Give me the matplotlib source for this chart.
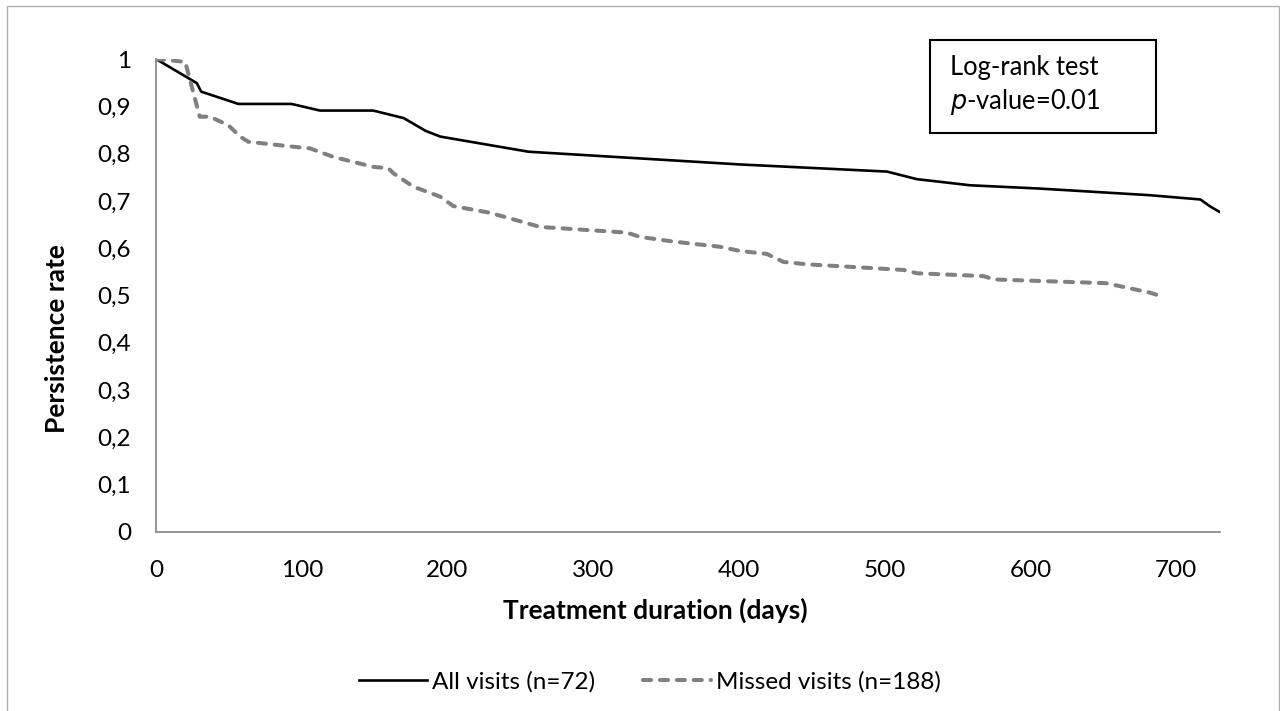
import matplotlib
matplotlib.use("Agg")
import matplotlib.pyplot as plt
from matplotlib.patches import Rectangle

plt.rcParams['font.family'] = ['Lato', 'DejaVu Sans']

# Data
all_days = [0, 28, 31, 56.5, 93, 112.5, 149, 170, 185, 195, 255.5, 401, 501.5, 522,
            558.7, 606.7, 682, 716.5, 723.4, 730.7]
all_rate = [1.0, 0.949, 0.931, 0.905, 0.905, 0.891, 0.891, 0.875, 0.848, 0.836, 0.804,
            0.777, 0.762, 0.746, 0.733, 0.726, 0.712, 0.703, 0.688, 0.675]

missed_days = [0, 20, 30, 37, 49.6, 57.7, 63.3, 98.8, 105.7, 121.7, 149, 159.4, 163,
               176.6, 195, 204, 229, 263.5, 323, 332, 355, 387, 401, 419, 430.5, 446.5,
               513, 522, 567.8, 574.7, 652, 682, 690]
missed_rate = [1.0, 0.994, 0.878, 0.878, 0.86, 0.836, 0.825, 0.813, 0.811, 0.793, 0.772,
               0.769, 0.758, 0.730, 0.709, 0.689, 0.675, 0.645, 0.633, 0.624, 0.614,
               0.603, 0.594, 0.588, 0.571, 0.566, 0.554, 0.547, 0.541, 0.534, 0.526,
               0.506, 0.498]

series_labels = ["All visits (n=72)", "Missed visits (n=188)"]
x_ticks = [0, 100, 200, 300, 400, 500, 600, 700]
y_ticks = [0, 0.1, 0.2, 0.3, 0.4, 0.5, 0.6, 0.7, 0.8, 0.9, 1.0]
y_tick_labels = ["0", "0,1", "0,2", "0,3", "0,4", "0,5", "0,6", "0,7", "0,8", "0,9", "1"]

W, H = 1280, 711
fig = plt.figure(figsize=(W / 100, H / 100), dpi=100)
fig.patch.set_facecolor('white')

# outer chart border
fig.patches.append(Rectangle((7 / W, -0.02), (1279 - 7) / W, 1 - 6 / H + 0.02,
                             transform=fig.transFigure, fill=False,
                             edgecolor='#b0b0b0', linewidth=1.0))

ax = fig.add_axes([156 / W, 1 - 532 / H, (1220 - 156) / W, (532 - 59) / H])

l1, = ax.plot(all_days, all_rate, color='black', linewidth=1.9,
              solid_joinstyle='round', label=series_labels[0])
l2, = ax.plot(missed_days, missed_rate, color='#808080', linewidth=2.9,
              linestyle=(0, (2.0, 2.2)), dash_capstyle='round',
              label=series_labels[1])

ax.set_xlim(0, 730)
ax.set_ylim(0, 1)
ax.set_xticks(x_ticks)
ax.set_yticks(y_ticks)
ax.set_yticklabels(y_tick_labels)
ax.tick_params(axis='both', length=0, labelsize=17.5, colors='black')
ax.tick_params(axis='x', pad=20)
ax.tick_params(axis='y', pad=18)

for s in ['top', 'right']:
    ax.spines[s].set_visible(False)
for s in ['left', 'bottom']:
    ax.spines[s].set_color('#8c8c8c')
    ax.spines[s].set_linewidth(1.3)

fig.text(655 / W, 1 - 610 / H, "Treatment duration (days)", fontsize=19,
         fontweight='bold', ha='center', va='center')
fig.text(57 / W, 1 - 339 / H, "Persistence rate", fontsize=19, fontweight='bold',
         ha='center', va='center', rotation=90)

# Log-rank box
fig.patches.append(Rectangle((930 / W, 1 - 133 / H), (1156 - 930) / W, (133 - 40) / H,
                             transform=fig.transFigure, fill=False,
                             edgecolor='black', linewidth=1.5))
fig.text(950 / W, 1 - 68 / H, "Log-rank test", fontsize=18.4, va='center', ha='left')
fig.text(950 / W, 1 - 102 / H, r"$\it{p}$-value=0.01", fontsize=18.4, va='center', ha='left')

fig.legend(handles=[l1, l2], loc='center', bbox_to_anchor=(650 / W, 1 - 682 / H),
           ncol=2, frameon=False, fontsize=17.5, handlelength=2.8,
           handletextpad=0.2, columnspacing=2.0)

fig.savefig("out.png", dpi=100)
